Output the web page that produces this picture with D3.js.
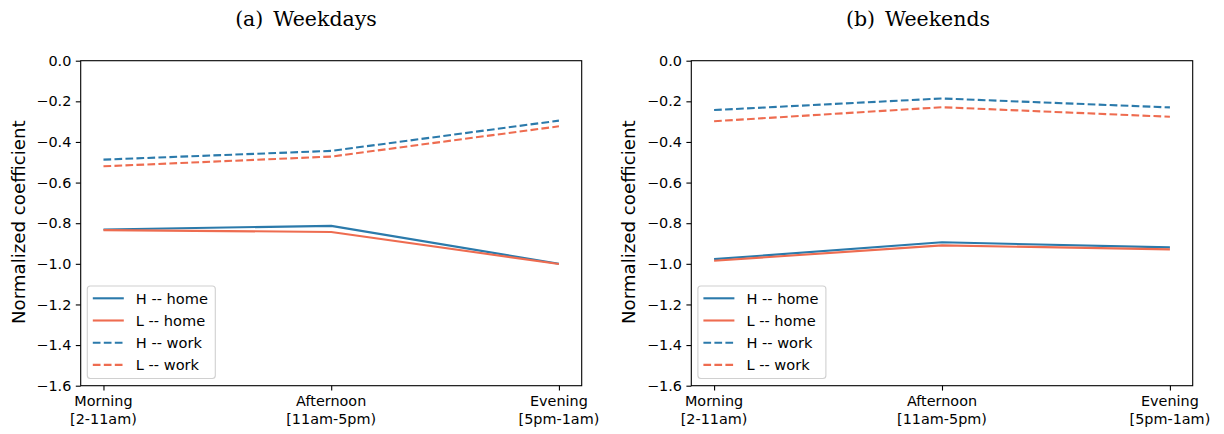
<!DOCTYPE html>
<html>
<head>
<meta charset="utf-8">
<script src="https://cdn.jsdelivr.net/npm/d3@7"></script>
<style>
  html, body { margin: 0; padding: 0; background: #fff; }
  svg { display: block; }
</style>
</head>
<body>
<svg id="chart" width="1224" height="434"></svg>
<script>
// ---- Data ----
const categoryLine1 = ["Morning", "Afternoon", "Evening"];
const categoryLine2 = ["[2-11am)", "[11am-5pm)", "[5pm-1am)"];
const yTicks = [0.0, -0.2, -0.4, -0.6, -0.8, -1.0, -1.2, -1.4, -1.6];
const seriesNames = ["H -- home", "L -- home", "H -- work", "L -- work"];

const weekdaysHHome = [-0.831, -0.813, -1.000];
const weekdaysLHome = [-0.834, -0.843, -1.001];
const weekdaysHWork = [-0.487, -0.444, -0.295];
const weekdaysLWork = [-0.520, -0.472, -0.323];

const weekendsHHome = [-0.977, -0.894, -0.919];
const weekendsLHome = [-0.985, -0.909, -0.929];
const weekendsHWork = [-0.243, -0.186, -0.230];
const weekendsLWork = [-0.298, -0.229, -0.276];

const panelTitles = [["(a)", "Weekdays"], ["(b)", "Weekends"]];

// ---- Styles ----
const BLUE = "#2b7aab";
const ORANGE = "#ee6c50";
const seriesStyle = [
  { color: BLUE, dash: null },
  { color: ORANGE, dash: null },
  { color: BLUE, dash: "7.7,3.3" },
  { color: ORANGE, dash: "7.7,3.3" }
];

const svg = d3.select("#chart");
const FONT = "'DejaVu Sans', sans-serif";

const panels = [
  { left: 80.7, right: 581.7, series: [weekdaysHHome, weekdaysLHome, weekdaysHWork, weekdaysLWork], title: panelTitles[0], cx: 306 },
  { left: 691.3, right: 1192.7, series: [weekendsHHome, weekendsLHome, weekendsHWork, weekendsLWork], title: panelTitles[1], cx: 918 }
];
const plotTop = 60.7, plotBottom = 385.7;

panels.forEach(p => {
  const x = d3.scaleLinear().domain([-0.1, 2.1]).range([p.left, p.right]);
  const y = d3.scaleLinear().domain([-1.6, 0.0]).range([plotBottom, plotTop]);
  const g = svg.append("g");

  // lines
  const line = d3.line().x((d, i) => x(i)).y(d => y(d));
  p.series.forEach((vals, si) => {
    g.append("path")
      .datum(vals)
      .attr("d", line)
      .attr("fill", "none")
      .attr("stroke", seriesStyle[si].color)
      .attr("stroke-width", 2.1)
      .attr("stroke-linejoin", "round")
      .attr("stroke-dasharray", seriesStyle[si].dash);
  });

  // frame
  g.append("rect")
    .attr("x", p.left).attr("y", plotTop)
    .attr("width", p.right - p.left).attr("height", plotBottom - plotTop)
    .attr("fill", "none").attr("stroke", "#000").attr("stroke-width", 1.1);

  // y axis
  const yAxis = d3.axisLeft(y).tickValues(yTicks).tickFormat(d3.format(".1f")).tickSize(4.9).tickPadding(4.5);
  const ya = g.append("g").attr("transform", `translate(${p.left},0)`).call(yAxis);
  ya.select(".domain").remove();
  ya.selectAll("line").attr("stroke", "#000").attr("stroke-width", 1.1);
  ya.selectAll("text").attr("font-family", FONT).attr("font-size", 14.4).attr("fill", "#000");

  // x axis
  const xAxis = d3.axisBottom(x).tickValues([0, 1, 2]).tickFormat("").tickSize(4.9);
  const xa = g.append("g").attr("transform", `translate(0,${plotBottom})`).call(xAxis);
  xa.select(".domain").remove();
  xa.selectAll("line").attr("stroke", "#000").attr("stroke-width", 1.1);
  [0, 1, 2].forEach(i => {
    const t = g.append("text")
      .attr("x", x(i)).attr("text-anchor", "middle")
      .attr("font-family", FONT).attr("font-size", 14.4).attr("fill", "#000");
    t.append("tspan").attr("x", x(i)).attr("y", 406).text(categoryLine1[i]);
    t.append("tspan").attr("x", x(i)).attr("y", 423.5).text(categoryLine2[i]);
  });

  // y label
  g.append("text")
    .attr("transform", `translate(${p.left - 56},${(plotTop + plotBottom) / 2 - 1}) rotate(-90)`)
    .attr("text-anchor", "middle")
    .attr("font-family", FONT).attr("font-size", 18.2).attr("fill", "#000")
    .text("Normalized coefficient");

  // legend
  const lx = p.left + 6.6, ly = 286, lw = 128, lh = 92.5;
  g.append("rect")
    .attr("x", lx).attr("y", ly).attr("width", lw).attr("height", lh)
    .attr("rx", 3).attr("ry", 3)
    .attr("fill", "#fff").attr("fill-opacity", 0.8)
    .attr("stroke", "#d0d0d0").attr("stroke-width", 1.1);
  seriesNames.forEach((name, si) => {
    const ry = 298.3 + si * 22.2;
    g.append("line")
      .attr("x1", lx + 5.5).attr("x2", lx + 36.5)
      .attr("y1", ry).attr("y2", ry)
      .attr("stroke", seriesStyle[si].color).attr("stroke-width", 2.1)
      .attr("stroke-dasharray", seriesStyle[si].dash);
    g.append("text")
      .attr("x", lx + 48.5).attr("y", ry + 5.2)
      .attr("font-family", FONT).attr("font-size", 14.6).attr("fill", "#000")
      .text(name);
  });

  // title
  const tt = svg.append("text")
    .attr("x", p.cx).attr("y", 26)
    .attr("text-anchor", "middle")
    .attr("font-family", "'DejaVu Serif', serif").attr("font-size", 20.5)
    .attr("fill", "#000");
  tt.append("tspan").text(p.title[0]);
  tt.append("tspan").attr("dx", 10).text(p.title[1]);
});
</script>
</body>
</html>
